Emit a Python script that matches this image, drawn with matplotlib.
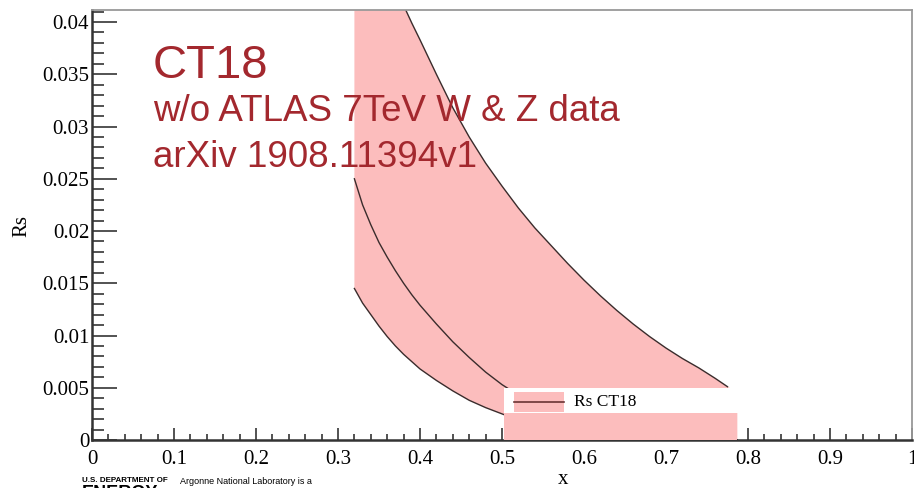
import numpy as np
import matplotlib
matplotlib.use('Agg')
import matplotlib.pyplot as plt
from matplotlib.patches import Rectangle
from matplotlib.ticker import MultipleLocator, FuncFormatter

# Rs band
x = [0.32, 0.33, 0.34, 0.35, 0.36, 0.37, 0.38, 0.39, 0.40, 0.42, 0.44, 0.46, 0.48,
     0.50, 0.52, 0.54, 0.56, 0.58, 0.60, 0.62, 0.64, 0.66, 0.68, 0.70, 0.72, 0.74,
     0.76, 0.775, 0.787]
rs_upper = [0.0545, 0.0519, 0.0495, 0.0473, 0.0452, 0.0433, 0.0416, 0.0399, 0.0383,
            0.0350, 0.0318, 0.0290, 0.0265, 0.0243, 0.0222, 0.0203, 0.0186, 0.0169,
            0.0153, 0.0138, 0.0124, 0.0111, 0.0099, 0.0088, 0.0078, 0.0069, 0.0059,
            0.0051, 0.0046]
rs_central = [0.0250, 0.0225, 0.0206, 0.0189, 0.0175, 0.0162, 0.0150, 0.0139, 0.0129,
              0.0111, 0.0094, 0.0079, 0.0065, 0.0053, 0.0043, 0.0035, 0.0028, 0.0022,
              0.0017, 0.0012, 0.0008, 0.0005, 0.0003, 0.0001, 0.00005, 0.00002,
              0.00001, 0.0, 0.0]
rs_lower = [0.0145, 0.0131, 0.0120, 0.0109, 0.0099, 0.0090, 0.0082, 0.0075, 0.0068,
            0.0057, 0.0047, 0.0038, 0.0031, 0.0025, 0.0019, 0.0014, 0.0010, 0.0007,
            0.0004, 0.0002, 0.00005, 0.0, 0.0, 0.0, 0.0, 0.0, 0.0, 0.0, 0.0]
upper_line_end = 0.775

x_ticks = [0, 0.1, 0.2, 0.3, 0.4, 0.5, 0.6, 0.7, 0.8, 0.9, 1.0]
y_ticks = [0, 0.005, 0.01, 0.015, 0.02, 0.025, 0.03, 0.035, 0.04]

title_lines = ['CT18', 'w/o ATLAS 7TeV W & Z data', 'arXiv 1908.11394v1']
legend_label = 'Rs CT18'

band_col = '#fcbdbd'
line_col = '#3a2c2c'
red = '#a3282e'
serif = ['Liberation Serif', 'DejaVu Serif']
sans = ['Liberation Sans', 'DejaVu Sans']

x = np.array(x)
rs_upper = np.array(rs_upper)

fig = plt.figure(figsize=(9.14, 4.88), dpi=100)
ax = fig.add_axes([92/914, 48/488, 820/914, 430.5/488])
ax.set_xlim(0, 1.0)
ax.set_ylim(0, 0.0412)

ax.fill_between(x, rs_lower, rs_upper, color=band_col, lw=0, zorder=1)
m = x <= upper_line_end
ax.plot(x[m], rs_upper[m], color=line_col, lw=1.0, zorder=2)
ax.plot(x, rs_central, color=line_col, lw=1.0, zorder=2)
ax.plot(x, rs_lower, color=line_col, lw=1.0, zorder=2)

# legend box (ROOT style, drawn by hand)
leg_x0, leg_x1 = 0.5024, 0.788
leg_y0, leg_y1 = 0.00258, 0.00498
ax.add_patch(Rectangle((leg_x0, 0), x[-1] - leg_x0, leg_y0, color=band_col, lw=0, zorder=3))
ax.add_patch(Rectangle((leg_x0, leg_y0), leg_x1 - leg_x0, leg_y1 - leg_y0, color='white', lw=0, zorder=4))
ax.add_patch(Rectangle((0.515, 0.0027), 0.061, 0.0019, color=band_col, lw=0, zorder=5))
ax.plot([0.515, 0.576], [0.00365, 0.00365], color='#6a3535', lw=1.2, zorder=6)
ax.text(0.588, 0.00365, legend_label, family=serif, fontsize=12.5, va='center', ha='left', zorder=6)

ax.xaxis.set_minor_locator(MultipleLocator(0.02))
ax.yaxis.set_minor_locator(MultipleLocator(0.001))
ax.set_xticks(x_ticks)
ax.set_yticks(y_ticks)
ax.xaxis.set_major_formatter(FuncFormatter(lambda v, p: '%g' % v))
ax.yaxis.set_major_formatter(FuncFormatter(lambda v, p: '%g' % v))

ax.tick_params(axis='both', which='both', direction='in', colors='#444444', width=1.3,
               top=False, right=False, labelcolor='black')
ax.tick_params(axis='y', which='major', length=18, pad=2, labelsize=15)
ax.tick_params(axis='y', which='minor', length=8.6)
ax.tick_params(axis='x', which='major', length=8.6, pad=7, labelsize=15)
ax.tick_params(axis='x', which='minor', length=4.3)
for lab in ax.get_xticklabels() + ax.get_yticklabels():
    lab.set_family(serif)

for s in ['left', 'bottom']:
    ax.spines[s].set_color('#333333')
    ax.spines[s].set_linewidth(1.8)
for s in ['top', 'right']:
    ax.spines[s].set_color('#999999')
    ax.spines[s].set_linewidth(1.3)

fig.text(22/914, 1 - 226/488, 'Rs', family=serif, fontsize=15, rotation=90, ha='center', va='center')
fig.text(563/914, 1 - 479/488, 'x', family=serif, fontsize=15, ha='center', va='center')

fig.text(153/914, 1 - 78/488, title_lines[0], family=sans, fontsize=34, color=red, va='baseline')
fig.text(153/914, 1 - 121/488, title_lines[1], family=sans, fontsize=26.5, color=red, va='baseline')
fig.text(153/914, 1 - 167/488, title_lines[2], family=sans, fontsize=26.5, color=red, va='baseline')

# slide footer bits
fig.text(82/914, 1 - 481/488, 'U.S. DEPARTMENT OF', family=sans, fontsize=5.8, weight='bold', va='center')
fig.text(82/914, 1 - 485/488, 'ENERGY', family=sans, fontsize=13, weight='bold', va='top')
fig.text(180/914, 1 - 482/488, 'Argonne National Laboratory is a', family=sans, fontsize=6.5, va='center')

fig.savefig('out.png', dpi=100)
